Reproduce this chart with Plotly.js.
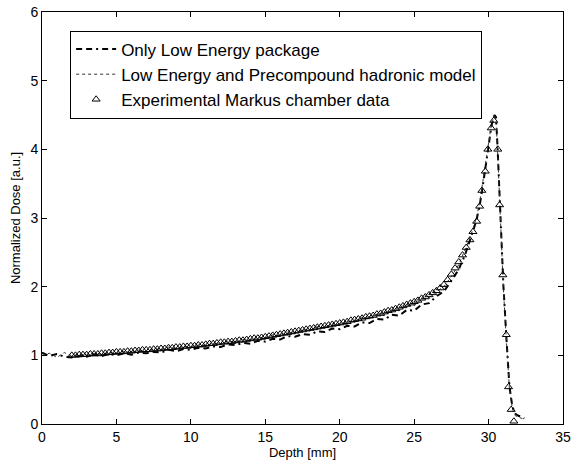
<!DOCTYPE html>
<html>
<head>
<meta charset="utf-8">
<script src="https://cdn.plot.ly/plotly-3.0.1.min.js"></script>
<style>html,body{margin:0;padding:0;background:#fff;}#chart{width:574px;height:464px;}</style>
</head>
<body>
<div id="chart"></div>
<script>
// Simulation: Only Low Energy package
const simDepth = [0.0,0.5,1.0,1.5,2.0,2.5,3.0,3.5,4.0,4.5,5.0,5.5,6.0,6.5,7.0,7.5,8.0,8.5,9.0,9.5,10.0,10.5,11.0,11.5,12.0,12.5,13.0,13.5,14.0,14.5,15.0,15.5,16.0,16.5,17.0,17.5,18.0,18.5,19.0,19.5,20.0,20.5,21.0,21.5,22.0,22.5,23.0,23.5,24.0,24.5,25.0,25.5,26.0,26.5,27.0,27.5,28.0,28.2,28.4,28.6,28.8,29.0,29.2,29.4,29.6,29.8,30.0,30.2,30.4,30.5,30.6,30.8,31.0,31.2,31.4,31.6,31.8,32.0,32.2,32.4];
const lowEnergyDose = [1.04,0.99,1.02,0.98,0.97,0.99,0.98,1.01,0.99,1.02,1.00,1.03,1.01,1.04,1.03,1.05,1.04,1.08,1.06,1.09,1.08,1.11,1.10,1.13,1.12,1.16,1.15,1.18,1.17,1.21,1.20,1.24,1.23,1.28,1.27,1.31,1.30,1.35,1.34,1.39,1.38,1.43,1.42,1.48,1.47,1.53,1.52,1.59,1.58,1.66,1.65,1.74,1.76,1.86,1.93,2.09,2.25,2.36,2.45,2.58,2.70,2.84,2.98,3.18,3.45,3.75,4.05,4.35,4.50,4.47,4.05,3.00,2.00,1.25,0.55,0.25,0.15,0.12,0.11,0.08];
// Simulation: Low Energy and Precompound hadronic model
const precompoundDose = [1.00,1.03,0.97,1.04,0.99,1.02,1.00,1.03,1.02,1.04,1.03,1.06,1.04,1.08,1.05,1.10,1.08,1.12,1.10,1.13,1.12,1.15,1.14,1.18,1.16,1.21,1.19,1.23,1.22,1.27,1.25,1.30,1.28,1.34,1.32,1.38,1.36,1.42,1.40,1.46,1.44,1.50,1.48,1.55,1.53,1.60,1.58,1.66,1.65,1.73,1.72,1.82,1.84,1.93,2.00,2.15,2.32,2.42,2.52,2.62,2.74,2.88,3.02,3.22,3.50,3.80,4.10,4.38,4.48,4.42,4.00,2.95,1.95,1.20,0.52,0.22,0.12,0.10,0.09,0.07];
// Experimental Markus chamber data
const expDepth = [2.00,2.25,2.50,2.75,3.00,3.25,3.50,3.75,4.00,4.25,4.50,4.75,5.00,5.25,5.50,5.75,6.00,6.25,6.50,6.75,7.00,7.25,7.50,7.75,8.00,8.25,8.50,8.75,9.00,9.25,9.50,9.75,10.00,10.25,10.50,10.75,11.00,11.25,11.50,11.75,12.00,12.25,12.50,12.75,13.00,13.25,13.50,13.75,14.00,14.25,14.50,14.75,15.00,15.25,15.50,15.75,16.00,16.25,16.50,16.75,17.00,17.25,17.50,17.75,18.00,18.25,18.50,18.75,19.00,19.25,19.50,19.75,20.00,20.25,20.50,20.75,21.00,21.25,21.50,21.75,22.00,22.25,22.50,22.75,23.00,23.25,23.50,23.75,24.00,24.25,24.50,24.75,25.00,25.25,25.50,25.75,26.00,26.25,26.50,26.75,27.00,27.25,27.50,27.75,28.00,28.25,28.50,28.75,28.95,29.20,29.40,29.55,29.78,29.95,30.18,30.35,30.62,30.74,30.96,31.19,31.34,31.52,31.70];
const expDose = [1.00,1.00,1.01,1.01,1.01,1.02,1.02,1.02,1.03,1.03,1.04,1.04,1.05,1.05,1.05,1.06,1.06,1.07,1.07,1.08,1.08,1.08,1.09,1.09,1.10,1.10,1.11,1.11,1.12,1.12,1.13,1.13,1.14,1.14,1.15,1.15,1.16,1.17,1.17,1.18,1.19,1.19,1.20,1.20,1.21,1.22,1.22,1.23,1.24,1.25,1.25,1.26,1.27,1.28,1.29,1.30,1.31,1.32,1.33,1.34,1.35,1.36,1.37,1.38,1.39,1.40,1.41,1.42,1.43,1.44,1.45,1.46,1.47,1.48,1.49,1.51,1.52,1.53,1.54,1.56,1.57,1.58,1.60,1.61,1.63,1.65,1.66,1.68,1.70,1.72,1.74,1.76,1.78,1.80,1.83,1.85,1.88,1.91,1.94,1.98,2.03,2.10,2.18,2.27,2.36,2.46,2.57,2.68,2.80,2.95,3.17,3.40,3.68,4.00,4.31,4.42,4.00,3.19,2.17,1.30,0.54,0.21,0.04];

const FONT = 'Liberation Sans, Arial, Helvetica, sans-serif';

const traces = [
  {x: simDepth, y: lowEnergyDose, type: 'scatter', mode: 'lines', name: 'Only Low Energy package',
   line: {color: '#000', width: 2, dash: '6px,4px,6px,4px,2px,4px'}},
  {x: simDepth, y: precompoundDose, type: 'scatter', mode: 'lines', name: 'Low Energy and Precompound hadronic model',
   line: {color: '#333', width: 1, dash: 'dot'}},
  {x: expDepth, y: expDose, type: 'scatter', mode: 'markers', name: 'Experimental Markus chamber data',
   marker: {symbol: 'triangle-up-open', size: 7, color: '#000', line: {width: 1, color: '#000'}}}
];

const axisCommon = {
  showgrid: false, zeroline: false, showline: true, linecolor: '#000', linewidth: 1,
  mirror: 'ticks', ticks: 'inside', ticklen: 5, tickcolor: '#000',
  tickfont: {family: FONT, size: 14, color: '#000'}
};

const layout = {
  width: 574, height: 464,
  margin: {l: 42, r: 11, t: 12, b: 40},
  paper_bgcolor: '#fff', plot_bgcolor: '#fff',
  font: {family: FONT, color: '#000'},
  showlegend: true,
  legend: {x: 0.054, y: 0.955, xanchor: 'left', yanchor: 'top',
           bgcolor: '#fff', bordercolor: '#000', borderwidth: 1,
           itemwidth: 40,
           font: {family: FONT, size: 17, color: '#000'}, tracegroupgap: 0},
  xaxis: Object.assign({}, axisCommon, {range: [0, 35], dtick: 5, tick0: 0,
    title: {text: 'Depth [mm]', font: {family: FONT, size: 13, color: '#000'}, standoff: 4}}),
  yaxis: Object.assign({}, axisCommon, {range: [0, 6], dtick: 1, tick0: 0,
    title: {text: 'Normalized Dose [a.u.]', font: {family: FONT, size: 13, color: '#000'}, standoff: 6}})
};

Plotly.newPlot('chart', traces, layout, {displayModeBar: false, staticPlot: true});
</script>
</body>
</html>
